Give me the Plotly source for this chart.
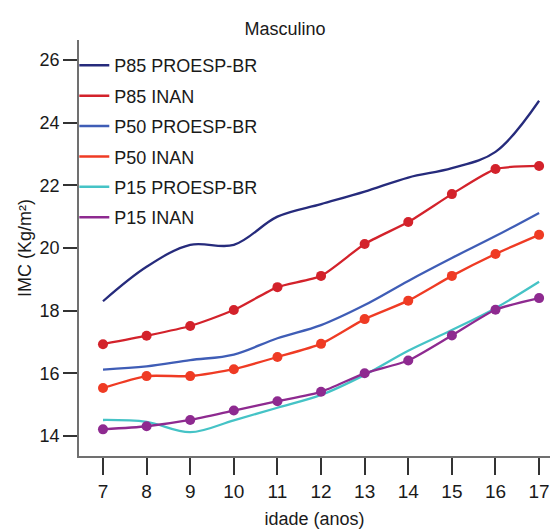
import plotly.graph_objects as go

ages = [7, 8, 9, 10, 11, 12, 13, 14, 15, 16, 17]

p85_proesp = [18.3, 19.4, 20.1, 20.1, 21.0, 21.4, 21.8, 22.25, 22.55, 23.07, 24.7]
p85_inan = [16.93, 17.2, 17.51, 18.02, 18.75, 19.11, 20.13, 20.83, 21.72, 22.52, 22.62]
p50_proesp = [16.12, 16.22, 16.42, 16.6, 17.12, 17.54, 18.18, 18.95, 19.68, 20.38, 21.12]
p50_inan = [15.53, 15.91, 15.91, 16.13, 16.52, 16.94, 17.73, 18.32, 19.11, 19.81, 20.42]
p15_proesp = [14.51, 14.45, 14.12, 14.5, 14.9, 15.31, 15.95, 16.72, 17.38, 18.08, 18.92]
p15_inan = [14.21, 14.31, 14.51, 14.81, 15.11, 15.41, 16.0, 16.41, 17.21, 18.03, 18.4]

x_ticks = [7, 8, 9, 10, 11, 12, 13, 14, 15, 16, 17]
y_ticks = [14, 16, 18, 20, 22, 24, 26]

series = [
    ("P85 PROESP-BR", p85_proesp, "#262b7c", False),
    ("P85 INAN", p85_inan, "#d3222b", True),
    ("P50 PROESP-BR", p50_proesp, "#3f5db6", False),
    ("P50 INAN", p50_inan, "#ef3b24", True),
    ("P15 PROESP-BR", p15_proesp, "#45c3c6", False),
    ("P15 INAN", p15_inan, "#8e2a90", True),
]

FONT = "Liberation Sans"
fig = go.Figure()
for i, (name, vals, color, markers) in enumerate(series):
    fig.add_trace(go.Scatter(
        x=ages, y=vals, name=name,
        mode="lines+markers" if markers else "lines",
        line=dict(color=color, width=2.3, shape="spline",
                  smoothing=0.6 if markers else 1.0),
        marker=dict(size=10, color=color),
        showlegend=False,
    ))
# legend-only entries (line symbols)
for i, (name, vals, color, markers) in enumerate(series):
    fig.add_trace(go.Scatter(
        x=[None], y=[None], name=name, mode="lines",
        line=dict(color=color, width=2.5),
        legendgroup=f"g{i}", showlegend=True,
    ))

axis_color = "#707070"
fig.update_layout(
    width=551, height=531,
    margin=dict(l=79, r=1, t=40, b=75),
    paper_bgcolor="white", plot_bgcolor="white",
    font=dict(family=FONT, size=18, color="#1a1a1a"),
    title=dict(text="Masculino", x=(285 - 79) / 471, xref="paper",
               xanchor="center", y=1 - 29 / 531, yref="container",
               yanchor="middle", font=dict(size=18, color="#1a1a1a")),
    legend=dict(x=-0.01, y=0.983, xanchor="left", yanchor="top",
                bgcolor="rgba(0,0,0,0)", font=dict(size=18),
                tracegroupgap=4, traceorder="grouped"),
    xaxis=dict(
        range=[6.45, 17.25], tickvals=x_ticks, ticktext=[str(v) for v in x_ticks],
        showgrid=False, zeroline=False, showline=True, linecolor=axis_color,
        linewidth=1.5, ticks="outside", ticklen=17, tickwidth=1.5,
        tickcolor="#333333", tickfont=dict(size=19),
        title=dict(text="idade (anos)", font=dict(size=18), standoff=12),
    ),
    yaxis=dict(
        range=[13.36, 26.64], tickvals=y_ticks, ticktext=[str(v) for v in y_ticks],
        showgrid=False, zeroline=False, showline=True, linecolor=axis_color,
        linewidth=1.5, ticks="outside", ticklen=14, tickwidth=1.5,
        tickcolor="#333333", tickfont=dict(size=18),
        title=dict(text="IMC (Kg/m²)", font=dict(size=18), standoff=3),
    ),
)

fig.write_html(
    "out.html",
    config={"displayModeBar": False},
    post_script="document.body.style.margin='0';document.body.style.overflow='hidden';",
)
